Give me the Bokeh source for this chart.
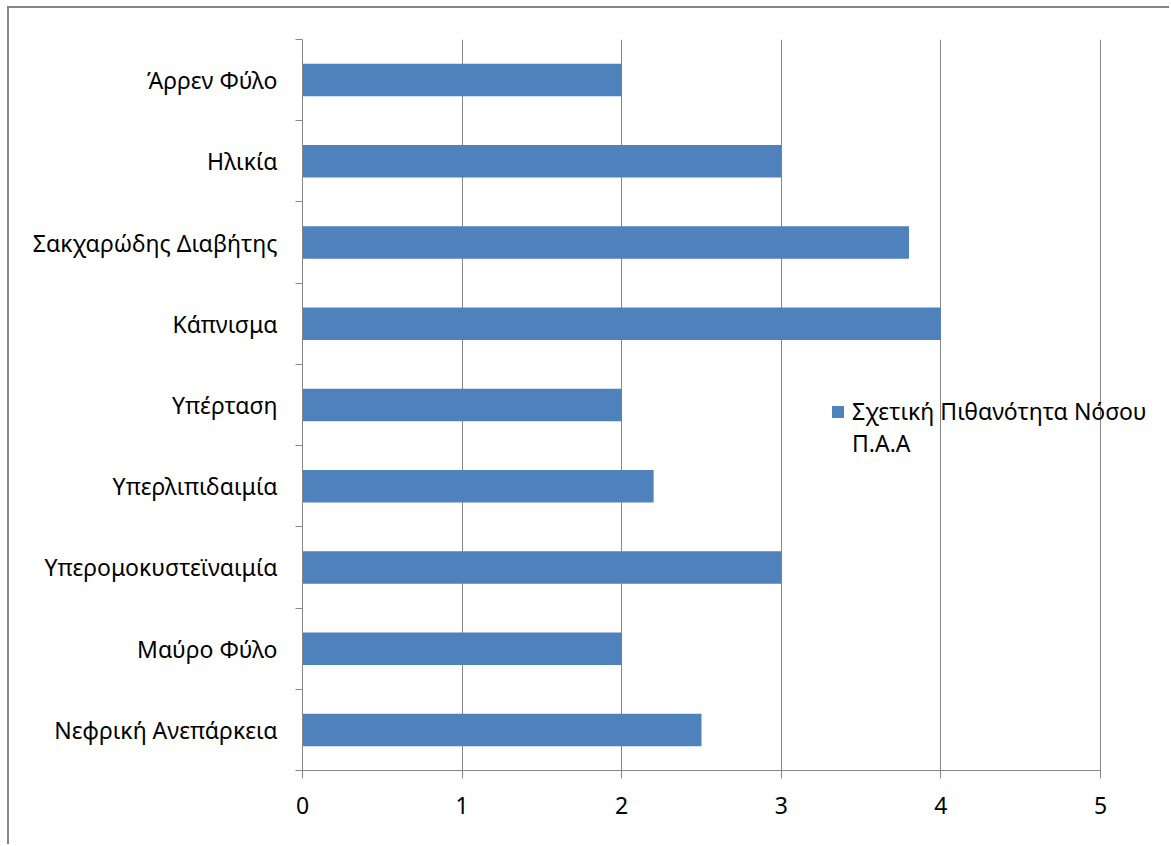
from bokeh.plotting import figure
from bokeh.models import FixedTicker, Legend, LegendItem, ColumnDataSource, Range1d
from bokeh.embed import file_html
from bokeh.resources import INLINE

# Risk factors (top to bottom) and relative likelihood of peripheral arterial disease
categories = [
    "Άρρεν Φύλο",
    "Ηλικία",
    "Σακχαρώδης Διαβήτης",
    "Κάπνισμα",
    "Υπέρταση",
    "Υπερλιπιδαιμία",
    "Υπερομοκυστεϊναιμία",
    "Μαύρο Φύλο",
    "Νεφρική Ανεπάρκεια",
]
values = [2, 3, 3.8, 4, 2, 2.2, 3, 2, 2.5]
x_ticks = [0, 1, 2, 3, 4, 5]
series_lines = ["Σχετική Πιθανότητα Νόσου", "Π.Α.Α"]

FONT = "Noto Sans"
SIZE = "23px"
GREY = "#878787"
BLUE = "#4F81BD"

n = len(categories)
centers = [n - i - 0.5 for i in range(n)]
bounds = list(range(n + 1))

# frame spans 0..5 over 798 px, then runs on to the right edge so the legend text has room
frame_w = 1162 - 293
x_end = x_ticks[-1] * frame_w / 798

src = ColumnDataSource(dict(y=centers, v=values, cat=categories))

p = figure(
    width=1162, height=838,
    x_range=Range1d(0, x_end), y_range=Range1d(0, n),
    output_backend="svg", toolbar_location=None,
    min_border_left=293, min_border_top=31, min_border_right=0, min_border_bottom=76,
)
p.margin = (6, 0, 0, 7)
p.styles = {"border-left": f"2px solid {GREY}", "border-top": f"2px solid {GREY}"}
p.outline_line_color = None
p.background_fill_color = "white"
p.border_fill_color = "white"

bars = p.hbar(y="y", right="v", left=0, height=0.4, source=src,
              fill_color=BLUE, line_color=None)

# empty companion renderer so the second legend line carries no swatch
blank = p.scatter(x=[], y=[], fill_alpha=0, line_alpha=0)

# category axis: ticks on row boundaries, labels at row centres
ya = p.yaxis[0]
ya.ticker = FixedTicker(ticks=centers, minor_ticks=bounds)
ya.major_label_overrides = {c: name for c, name in zip(centers, categories)}
ya.major_tick_out = 0
ya.major_tick_in = 0
ya.minor_tick_out = 7
ya.minor_tick_in = 0
ya.minor_tick_line_color = GREY
ya.axis_line_color = GREY
ya.major_label_standoff = 18
ya.major_label_text_font = FONT
ya.major_label_text_font_size = SIZE
ya.major_label_text_color = "black"

xa = p.xaxis[0]
xa.ticker = FixedTicker(ticks=x_ticks, minor_ticks=[])
xa.bounds = (x_ticks[0], x_ticks[-1])
xa.major_tick_out = 8
xa.major_tick_in = 0
xa.major_tick_line_color = GREY
xa.axis_line_color = GREY
xa.major_label_standoff = 18
xa.major_label_text_font = FONT
xa.major_label_text_font_size = SIZE
xa.major_label_text_color = "black"

p.ygrid.visible = False
p.xgrid.grid_line_color = GREY
p.xgrid.grid_line_width = 1

legend = Legend(
    items=[LegendItem(label=series_lines[0], renderers=[bars]),
           LegendItem(label=series_lines[1], renderers=[blank])],
    location=(528, 311),
    glyph_width=15, glyph_height=15, label_standoff=7,
    padding=0, margin=0, spacing=0,
    border_line_color=None, background_fill_alpha=0,
    label_text_font=FONT, label_text_font_size=SIZE, label_text_color="black",
)
p.add_layout(legend)

open("out.html", "w").write(file_html(p, INLINE))
